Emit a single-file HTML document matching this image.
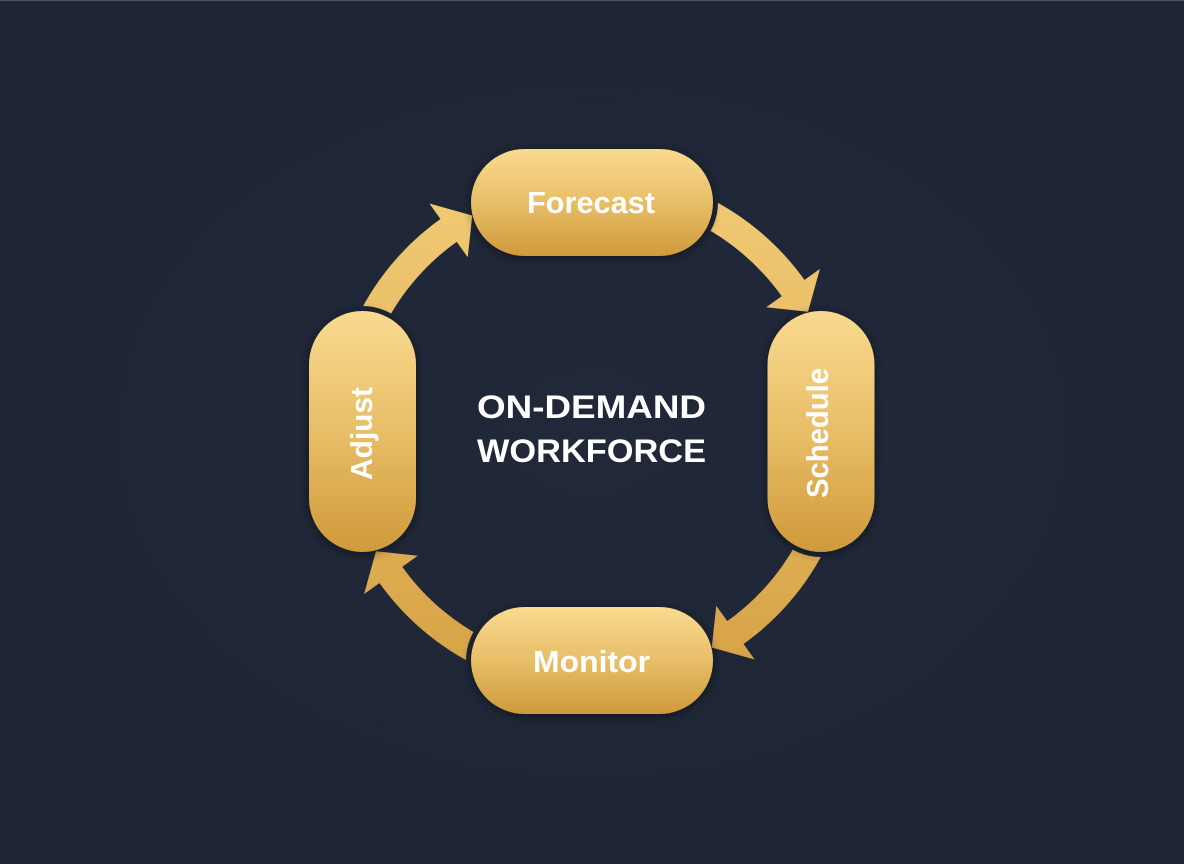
<!DOCTYPE html>
<html>
<head>
<meta charset="utf-8">
<style>
  html, body { margin: 0; padding: 0; background: #1e2636; }
  body { width: 1184px; height: 864px; overflow: hidden; }
  svg { display: block; }
  text { font-family: "Liberation Sans", "DejaVu Sans", sans-serif; font-weight: bold; fill: #ffffff; }
</style>
</head>
<body>
<svg width="1184" height="864" viewBox="0 0 1184 864" xmlns="http://www.w3.org/2000/svg">
  <defs>
    <linearGradient id="pillH" x1="0" y1="0" x2="0" y2="1">
      <stop offset="0" stop-color="#f9da8f"/>
      <stop offset="0.5" stop-color="#e8be68"/>
      <stop offset="1" stop-color="#cf9a3a"/>
    </linearGradient>
    <linearGradient id="arrowG" gradientUnits="userSpaceOnUse" x1="0" y1="180" x2="0" y2="680">
      <stop offset="0" stop-color="#f2cb76"/>
      <stop offset="1" stop-color="#d6a245"/>
    </linearGradient>
    <radialGradient id="bgGlow" cx="0.5" cy="0.5" r="0.5">
      <stop offset="0" stop-color="#202839"/>
      <stop offset="1" stop-color="#1e2636"/>
    </radialGradient>
    <filter id="shadow" x="-30%" y="-30%" width="160%" height="160%">
      <feGaussianBlur in="SourceAlpha" stdDeviation="5"/>
      <feOffset dx="0" dy="2" result="b"/>
      <feComponentTransfer><feFuncA type="linear" slope="0.45"/></feComponentTransfer>
      <feMerge><feMergeNode/><feMergeNode in="SourceGraphic"/></feMerge>
    </filter>
  </defs>

  <rect x="0" y="0" width="1184" height="864" fill="#1e2636"/>
  <rect x="0" y="0" width="1184" height="864" fill="url(#bgGlow)"/>
  <rect x="0" y="0" width="1184" height="1" fill="#4a5262"/>

  <!-- arrow shafts -->
  <g fill="none" stroke="url(#arrowG)" stroke-width="28" stroke-linecap="butt">
    <path d="M 364.64 334.99 A 247 247 0 0 1 452.10 227.94"/>
    <path d="M 688.51 204.14 A 247 247 0 0 1 795.56 291.60"/>
    <path d="M 819.36 528.01 A 247 247 0 0 1 731.90 635.06"/>
    <path d="M 495.49 658.86 A 247 247 0 0 1 388.44 571.40"/>
  </g>

  <!-- gap outlines around pills -->
  <g fill="#1e2636">
    <rect x="466" y="144" width="252" height="117" rx="58.5"/>
    <rect x="466" y="602" width="252" height="117" rx="58.5"/>
    <rect x="304" y="306" width="117" height="251" rx="58.5"/>
    <rect x="762.5" y="306" width="117" height="251" rx="58.5"/>
  </g>

  <!-- arrow heads -->
  <g fill="url(#arrowG)">
    <polygon points="472.25,215.47 429.40,203.55 467.73,257.28"/>
    <polygon points="808.03,311.75 819.95,268.90 766.22,307.23"/>
    <polygon points="711.75,647.53 754.60,659.45 716.27,605.72"/>
    <polygon points="375.97,551.25 364.05,594.10 417.78,555.77"/>
  </g>

  <!-- pills -->
  <g filter="url(#shadow)">
    <rect x="471" y="149" width="242" height="107" rx="53.5" fill="url(#pillH)"/>
    <rect x="471" y="607" width="242" height="107" rx="53.5" fill="url(#pillH)"/>
    <rect x="309" y="311" width="107" height="241" rx="53.5" fill="url(#pillH)"/>
    <rect x="767.5" y="311" width="107" height="241" rx="53.5" fill="url(#pillH)"/>
  </g>

  <!-- labels -->
  <text x="591" y="213" font-size="31" text-anchor="middle" textLength="128" lengthAdjust="spacingAndGlyphs">Forecast</text>
  <text x="591.5" y="672" font-size="31" text-anchor="middle" textLength="117" lengthAdjust="spacingAndGlyphs">Monitor</text>
  <text transform="translate(372 433.5) rotate(-90)" x="0" y="0" font-size="31" text-anchor="middle" textLength="93" lengthAdjust="spacingAndGlyphs">Adjust</text>
  <text transform="translate(828 433) rotate(-90)" x="0" y="0" font-size="31" text-anchor="middle" textLength="130" lengthAdjust="spacingAndGlyphs">Schedule</text>

  <text x="591.5" y="418" font-size="32" text-anchor="middle" textLength="229" lengthAdjust="spacingAndGlyphs">ON-DEMAND</text>
  <text x="591.5" y="462" font-size="32" text-anchor="middle" textLength="229" lengthAdjust="spacingAndGlyphs">WORKFORCE</text>
</svg>
</body>
</html>
